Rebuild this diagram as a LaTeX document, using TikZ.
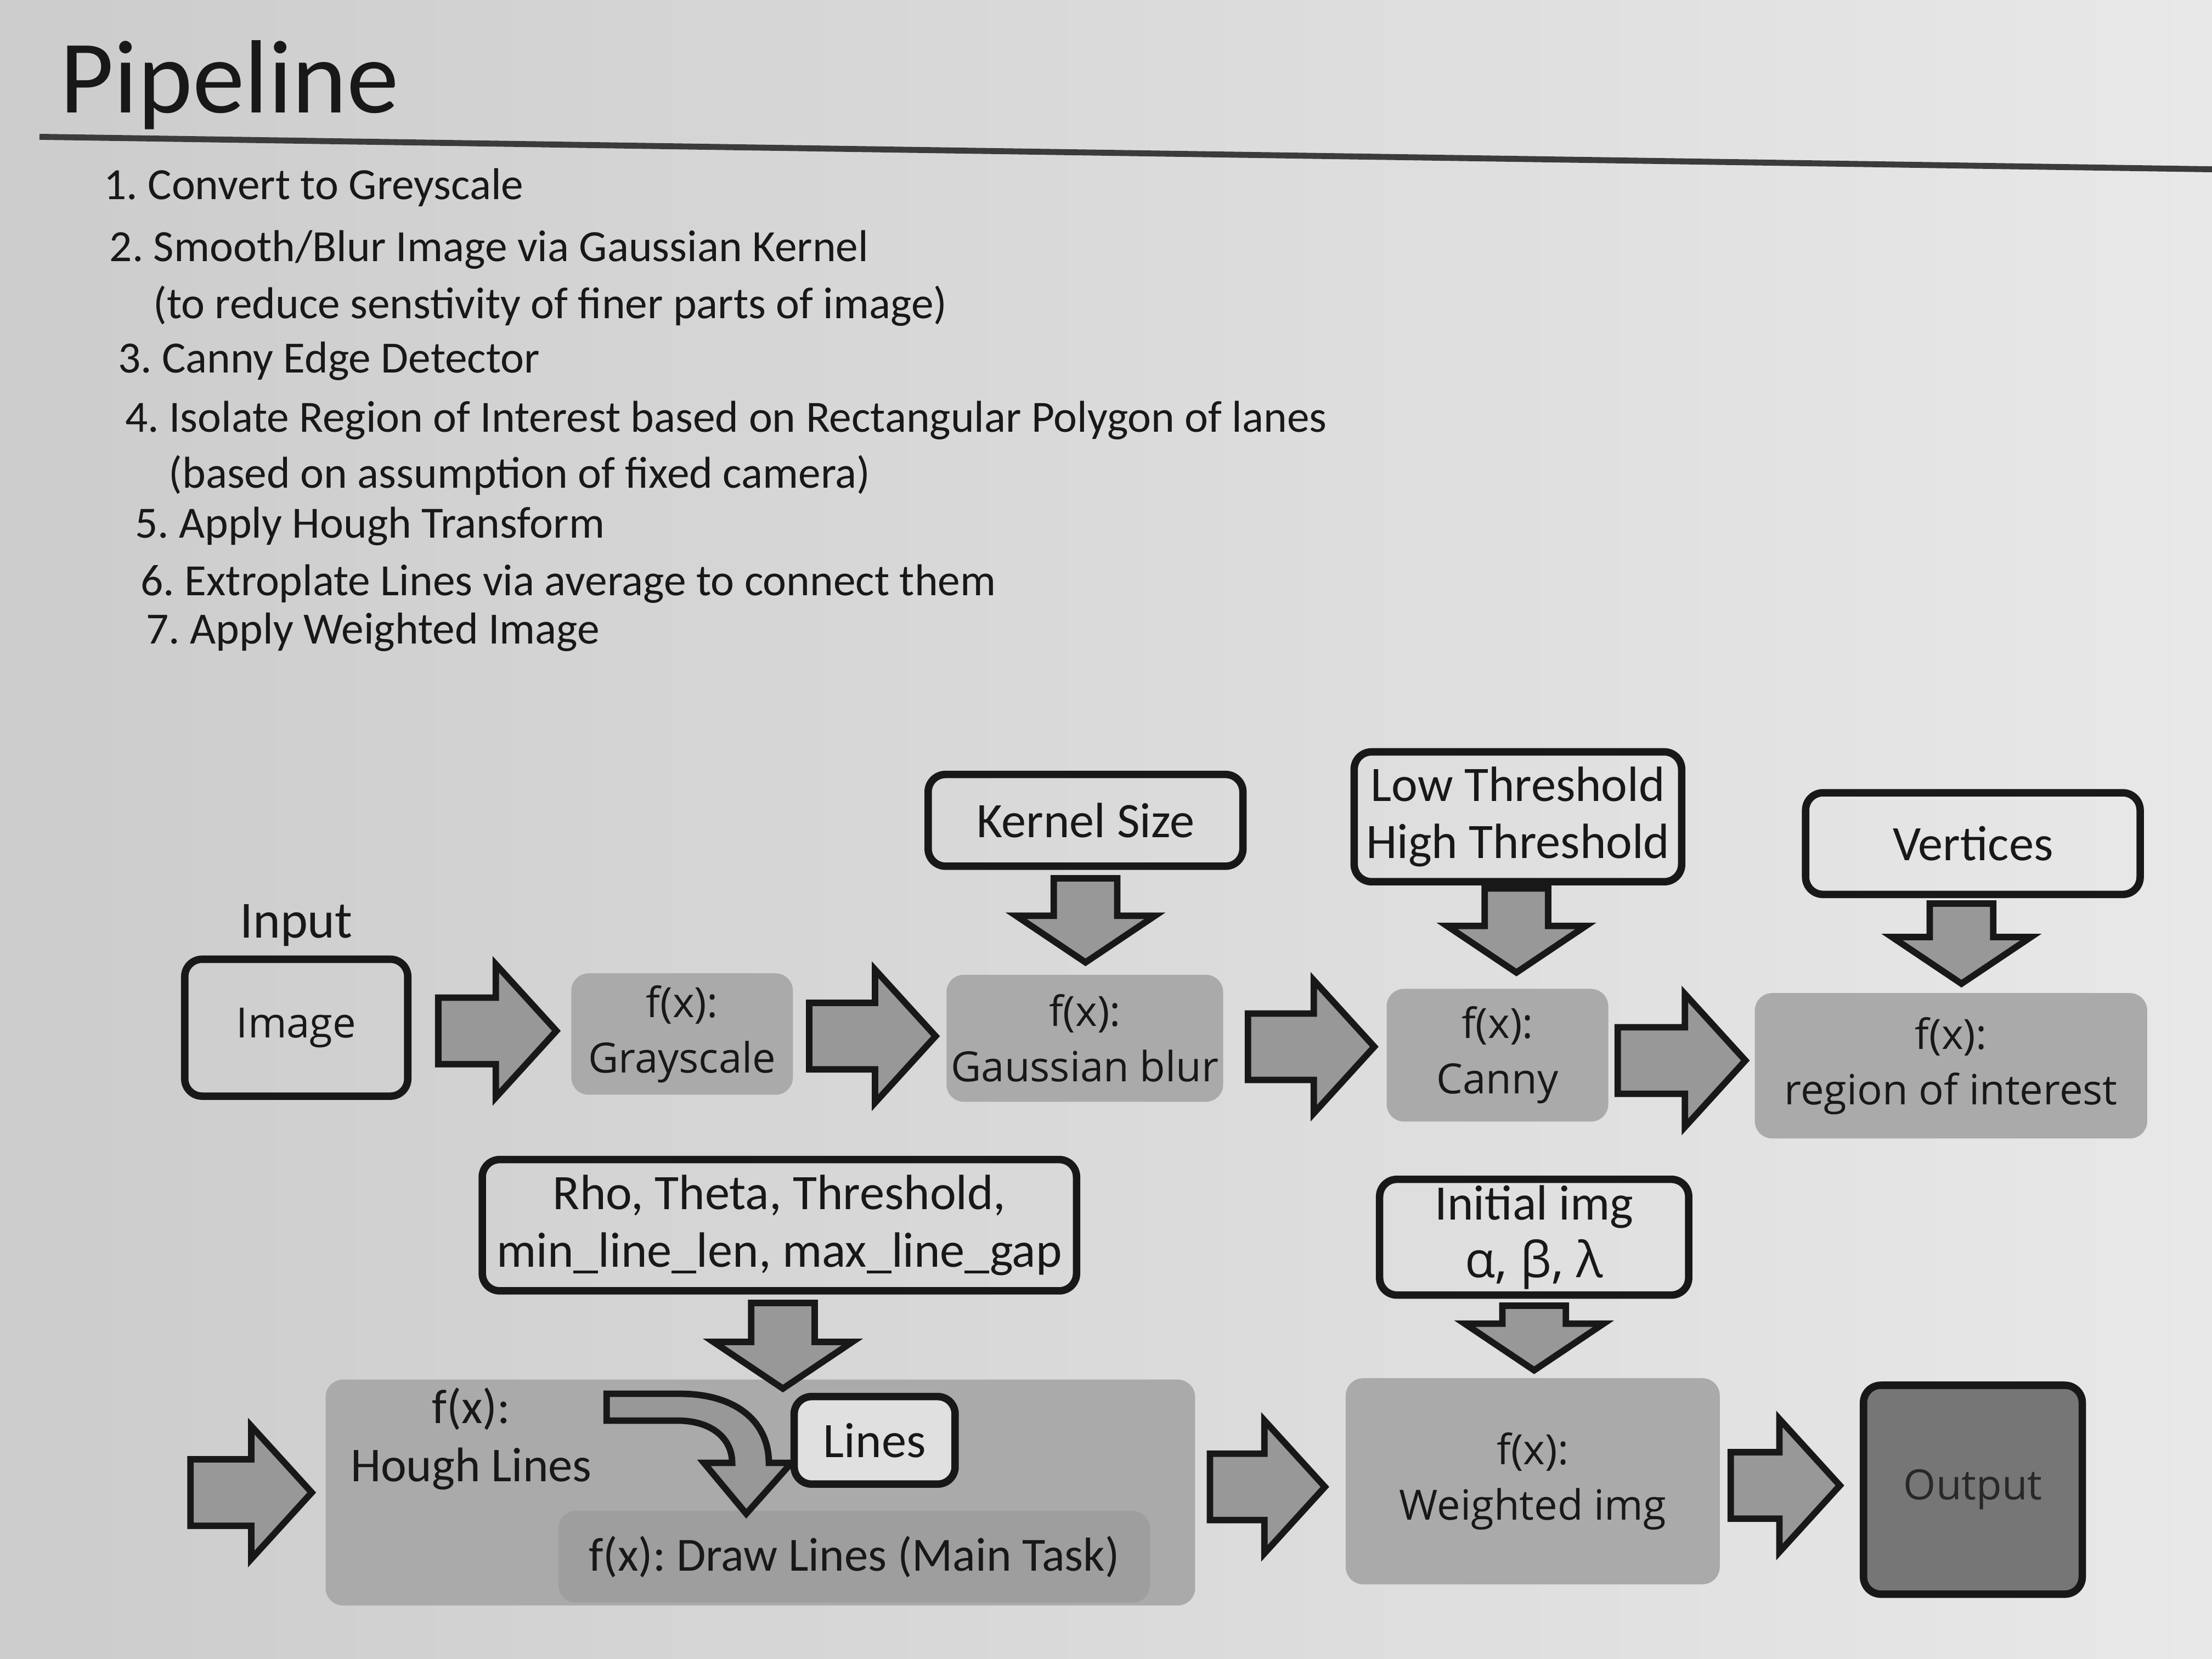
\documentclass[tikz,border=0pt]{standalone}
\usepackage{fontspec}
\setmainfont{Carlito}
\newfontfamily\osans{Open Sans}
\usetikzlibrary{calc}
\frenchspacing
\definecolor{bgL}{RGB}{204,204,205}
\definecolor{bgR}{RGB}{232,232,233}
\definecolor{boxgray}{RGB}{170,170,170}
\definecolor{innergray}{RGB}{158,158,158}
\definecolor{arrgray}{RGB}{152,152,152}
\definecolor{outgray}{RGB}{118,118,118}
\definecolor{linesfill}{RGB}{224,224,224}
\definecolor{ink}{RGB}{24,24,24}
\definecolor{outink}{RGB}{40,40,40}
\tikzset{
  parambox/.style={draw=ink, line width=1.5pt, rounded corners=3.5pt, inner sep=0pt, align=center,
    font=\fontsize{10}{11.6}\selectfont, text=ink},
  osf/.style={font=\osans\fontsize{8.4}{11.2}\selectfont},
  funcbox/.style={fill=boxgray, rounded corners=3.5pt, inner sep=0pt, align=center, text=ink, osf},
  blockarrow/.style={draw=ink, line width=1.3pt, fill=arrgray, line join=miter},
  listitem/.style={anchor=west, inner sep=0pt, font=\fontsize{9}{11}\selectfont, text=ink},
  plain/.style={inner sep=0pt, text=ink, align=center},
}
\newcommand{\hblockarrow}[4]{%
  \draw[blockarrow] let \p1=(#1), \p2=(#2), \p3=($(#1)!0.5!(#2)$) in
  (\x1+#3,\y3+6.7pt) -- (\x2-#4-12.2pt,\y3+6.7pt) -- (\x2-#4-12.2pt,\y3+13.4pt) -- (\x2-#4,\y3)
  -- (\x2-#4-12.2pt,\y3-13.4pt) -- (\x2-#4-12.2pt,\y3-6.7pt) -- (\x1+#3,\y3-6.7pt) -- cycle;}
\newcommand{\vblockarrow}[5]{%
  \draw[blockarrow] let \p1=(#1), \p2=(#2) in
  (\x1+#5-6.4pt,\y1-#3) -- (\x1+#5-6.4pt,\y2+#4+9.4pt) -- (\x1+#5-14pt,\y2+#4+9.4pt) -- (\x1+#5,\y2+#4)
  -- (\x1+#5+14pt,\y2+#4+9.4pt) -- (\x1+#5+6.4pt,\y2+#4+9.4pt) -- (\x1+#5+6.4pt,\y1-#3) -- cycle;}
\begin{document}
\begin{tikzpicture}[x=0.01cm,y=-0.01cm]
\shade[left color=bgL,right color=bgR] (0,0) rectangle (1568,1176);
\useasboundingbox (0,0) rectangle (1568,1176);

% title and rule
\node[anchor=base west, inner sep=0pt, text=ink, font=\fontsize{21}{24}\selectfont] (title) at (42,80) {Pipeline};
\draw[ink!85, line width=1.2pt] (28,97) -- (1568,120);

% list
\node[listitem] (l1) at (73,133) {1. Convert to Greyscale};
\node[listitem] (l2) at (77,177) {2. Smooth/Blur Image via Gaussian Kernel};
\node[listitem] (l2b) at (108,217) {(to reduce senstivity of finer parts of image)};
\node[listitem] (l3) at (83,256) {3. Canny Edge Detector};
\node[listitem] (l4) at (88,298) {4. Isolate Region of Interest based on Rectangular Polygon of lanes};
\node[listitem] (l4b) at (119,337) {(based on assumption of fixed camera)};
\node[listitem] (l5) at (95,373) {5. Apply Hough Transform};
\node[listitem] (l6) at (99,414) {6. Extroplate Lines via average to connect them};
\node[listitem] (l7) at (103,448) {7. Apply Weighted Image};

% row 1
\node[plain, font=\fontsize{10.5}{12}\selectfont] (inlab) at (210,656) {Input};
\node[parambox, osf, minimum width=1.58cm, minimum height=0.97cm] (img) at (210,728.5) {Image};
\node[funcbox, minimum width=1.57cm, minimum height=0.86cm] (gs) at (483.5,733) {f(x):\\Grayscale};
\node[funcbox, minimum width=1.96cm, minimum height=0.90cm] (gb) at (769,736) {f(x):\\Gaussian blur};
\node[funcbox, minimum width=1.57cm, minimum height=0.94cm] (cn) at (1061.5,748) {f(x):\\Canny};
\node[funcbox, minimum width=2.78cm, minimum height=1.03cm] (roi) at (1383,755.5) {f(x):\\region of interest};
\node[parambox, minimum width=2.23cm, minimum height=0.65cm] (ks) at (769.5,581.5) {Kernel Size};
\node[parambox, minimum width=2.32cm, minimum height=0.92cm] (th) at (1076,579) {Low Threshold\\High Threshold};
\node[parambox, minimum width=2.37cm, minimum height=0.72cm] (vt) at (1398.5,598) {Vertices};

% row 2
\node[parambox, minimum width=4.21cm, minimum height=0.93cm] (rho) at (552.5,868.5) {Rho, Theta, Threshold,\\min\_line\_len, max\_line\_gap};
\node[funcbox, minimum width=6.16cm, minimum height=1.60cm] (hl) at (539,1058) {};
\node[plain, font=\fontsize{9.8}{11.7}\selectfont] (hlt) at (334,1020) {f(x):\\Hough Lines};
\node[funcbox, fill=innergray, font=\fontsize{9.6}{11}\selectfont, minimum width=4.19cm, minimum height=0.65cm] (dl) at (605.5,1103.5) {f(x): Draw Lines (Main Task)};
\draw[blockarrow] (430,988) -- (482,988) .. controls (522,988) and (545,1008) .. (545,1037)
  -- (561,1037) -- (529,1073) -- (499,1037) -- (519,1037)
  .. controls (519,1020) and (505,1007) .. (480,1007) -- (430,1007) -- cycle;
\node[parambox, fill=linesfill, minimum width=1.14cm, minimum height=0.62cm] (ln) at (620,1021) {Lines};
\node[parambox, minimum width=2.19cm, minimum height=0.82cm] (ini) at (1087.5,877) {Initial img\\{\osans\fontsize{10}{11}\selectfont α, β, λ}};
\node[funcbox, minimum width=2.65cm, minimum height=1.46cm] (wi) at (1086.5,1050) {f(x):\\Weighted img};
\node[parambox, osf, fill=outgray, text=outink, minimum width=1.55cm, minimum height=1.48cm] (out) at (1398.5,1056) {Output};
\coordinate (hin) at (135,1058);

% horizontal block arrows
\hblockarrow{img.east}{gs.west}{5.4pt}{2.8pt}
\hblockarrow{gs.east}{gb.west}{3.1pt}{2pt}
\hblockarrow{gb.east}{cn.west}{4.8pt}{2.3pt}
\hblockarrow{cn.east}{roi.west}{1.7pt}{1.7pt}
\hblockarrow{hin}{hl.west}{0pt}{2.6pt}
\hblockarrow{hl.east}{wi.west}{2.8pt}{4pt}
\hblockarrow{wi.east}{out.west}{2pt}{4pt}

% vertical block arrows
\vblockarrow{ks.south}{gb.north}{1.7pt}{2.3pt}{0pt}
\vblockarrow{th.south}{cn.north}{0.6pt}{3.1pt}{-0.3pt}
\vblockarrow{vt.south}{roi.north}{1.1pt}{1.7pt}{-2.3pt}
\vblockarrow{rho.south}{hl.north}{1.7pt}{-2pt}{0.7pt}
\vblockarrow{ini.south}{wi.north}{1.4pt}{1.4pt}{0pt}
\end{tikzpicture}
\end{document}
